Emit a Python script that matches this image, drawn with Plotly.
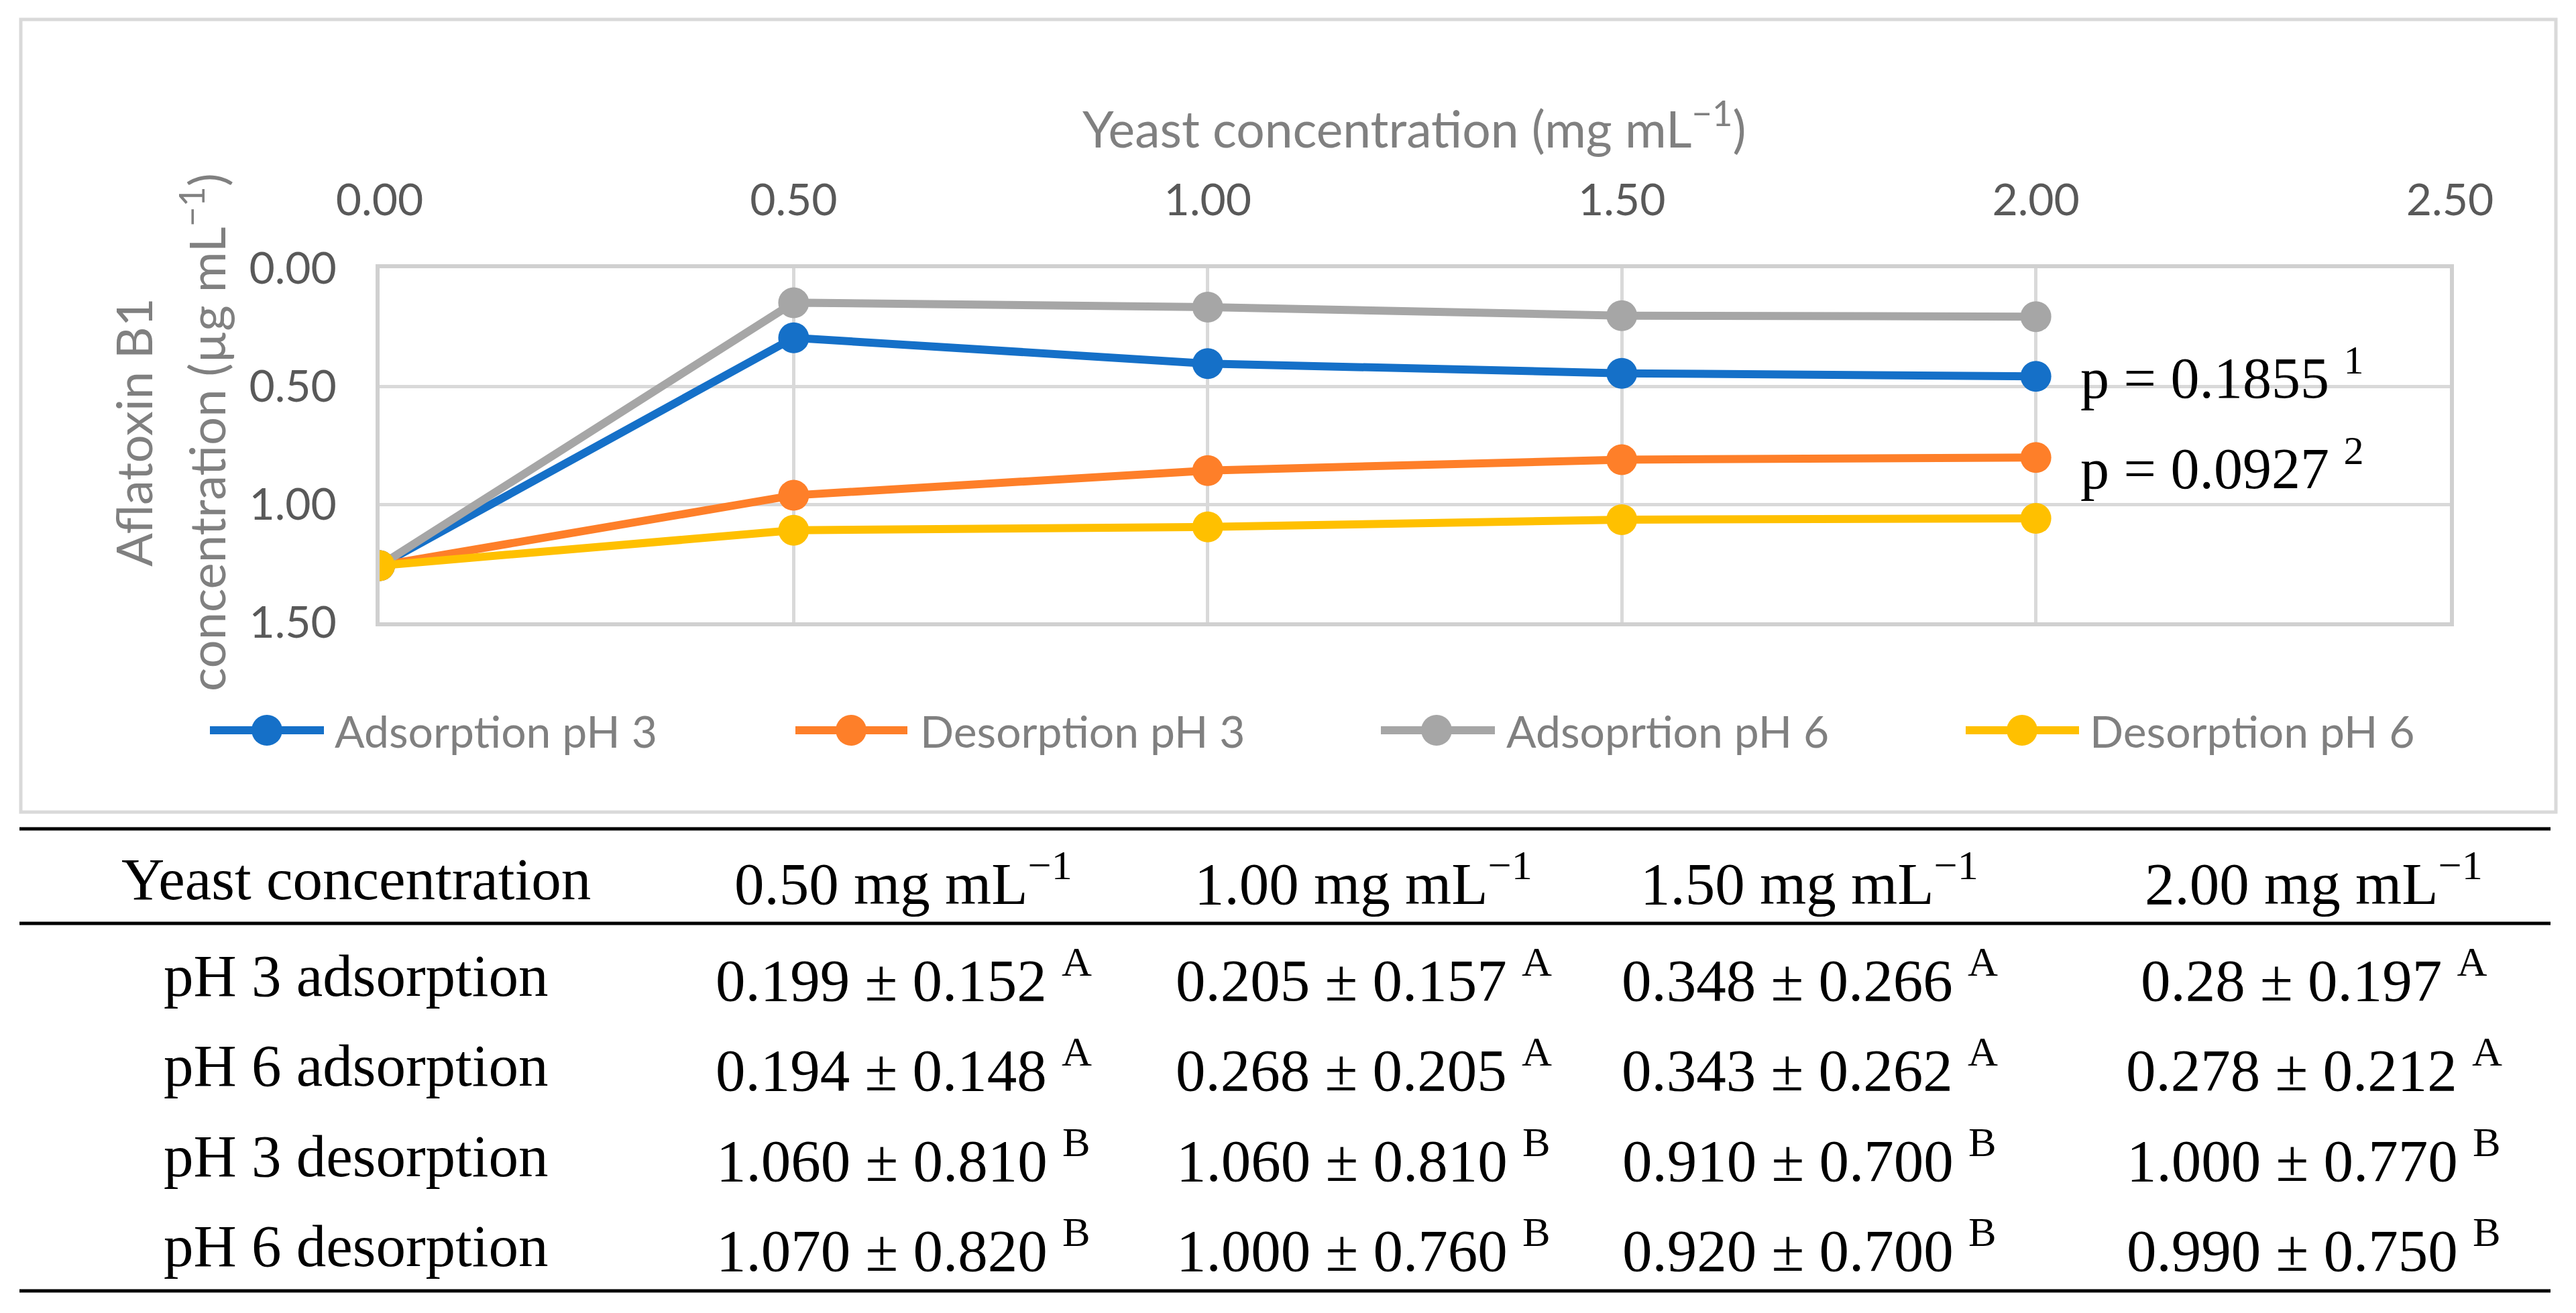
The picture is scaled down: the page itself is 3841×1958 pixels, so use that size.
import plotly.graph_objects as go

# ---------------- data ----------------
yeast_conc = [0.0, 0.5, 1.0, 1.5, 2.0]
adsorption_ph3 = [1.26, 0.295, 0.404, 0.445, 0.458]
desorption_ph3 = [1.26, 0.962, 0.857, 0.811, 0.802]
adsorption_ph6 = [1.26, 0.146, 0.165, 0.201, 0.205]
desorption_ph6 = [1.26, 1.110, 1.096, 1.065, 1.060]

series_names = ["Adsorption pH 3", "Desorption pH 3", "Adsoprtion pH 6", "Desorption pH 6"]
series_values = [adsorption_ph3, desorption_ph3, adsorption_ph6, desorption_ph6]
series_colors = ["#1570c8", "#fe7f29", "#a6a6a6", "#ffc000"]

p_labels = ["p = 0.1855 <sup>1</sup>", "p = 0.0927 <sup>2</sup>"]

table_header = ["Yeast concentration", "0.50 mg mL<sup>\u22121</sup>", "1.00 mg mL<sup>\u22121</sup>",
                "1.50 mg mL<sup>\u22121</sup>", "2.00 mg mL<sup>\u22121</sup>"]
row_labels = ["pH 3 adsorption", "pH 6 adsorption", "pH 3 desorption", "pH 6 desorption"]
row_means = [["0.199", "0.205", "0.348", "0.28"],
             ["0.194", "0.268", "0.343", "0.278"],
             ["1.060", "1.060", "0.910", "1.000"],
             ["1.070", "1.000", "0.920", "0.990"]]
row_sds = [["0.152", "0.157", "0.266", "0.197"],
           ["0.148", "0.205", "0.262", "0.212"],
           ["0.810", "0.810", "0.700", "0.770"],
           ["0.820", "0.760", "0.700", "0.750"]]
row_letters = [["A", "A", "A", "A"],
               ["A", "A", "A", "A"],
               ["B", "B", "B", "B"],
               ["B", "B", "B", "B"]]

# ---------------- layout helpers ----------------
W, H = 3841, 1958


def px(x):
    return x / W


def py(y):
    return 1 - y / H


SANS = "Lato"
SERIF = "Liberation Serif"

fig = go.Figure()
for name, vals, col in zip(series_names, series_values, series_colors):
    fig.add_trace(go.Scatter(
        x=yeast_conc, y=vals, name=name, mode="lines+markers",
        line=dict(color=col, width=12),
        marker=dict(color=col, size=46),
        showlegend=False,
    ))

annotations = []
shapes = []

# axis titles
annotations.append(dict(text="Yeast concentration (mg mL<sup>\u22121</sup>)", x=px(2109), y=py(186),
                        xref="paper", yref="paper", xanchor="center", yanchor="middle",
                        showarrow=False, font=dict(family=SANS, size=75, color="#808080")))
annotations.append(dict(text="Aflatoxin B1", x=px(199), y=py(645), textangle=-90,
                        xref="paper", yref="paper", xanchor="center", yanchor="middle",
                        showarrow=False, font=dict(family=SANS, size=74, color="#808080")))
annotations.append(dict(text="concentration (\u00b5g mL<sup>\u22121</sup>)", x=px(303), y=py(645), textangle=-90,
                        xref="paper", yref="paper", xanchor="center", yanchor="middle",
                        showarrow=False, font=dict(family=SANS, size=74, color="#808080")))

# p-value labels next to the last points
for lbl, yy in zip(p_labels, [558, 692]):
    annotations.append(dict(text=lbl, x=px(3100), y=py(yy), xref="paper", yref="paper",
                            xanchor="left", yanchor="middle", showarrow=False,
                            font=dict(family=SERIF, size=86, color="#000000")))

# custom legend
leg_y = 1089
leg_items = [(313, 483, 398, 497), (1186, 1353, 1269, 1370), (2059, 2229, 2142, 2244), (2931, 3100, 3015, 3114)]
r = 23
for (lx0, lx1, mx, tx), name, col in zip(leg_items, series_names, series_colors):
    shapes.append(dict(type="line", xref="paper", yref="paper", x0=px(lx0), x1=px(lx1),
                       y0=py(leg_y), y1=py(leg_y), line=dict(color=col, width=12)))
    shapes.append(dict(type="circle", xref="paper", yref="paper", x0=px(mx - r), x1=px(mx + r),
                       y0=py(leg_y - r), y1=py(leg_y + r), fillcolor=col, line=dict(width=0)))
    annotations.append(dict(text=name, x=px(tx), y=py(leg_y), xref="paper", yref="paper",
                            xanchor="left", yanchor="middle", showarrow=False,
                            font=dict(family=SANS, size=66, color="#808080")))

# chart outer border
shapes.append(dict(type="rect", xref="paper", yref="paper", x0=px(31), x1=px(3811), y0=py(29), y1=py(1211),
                   line=dict(color="#d9d9d9", width=5), layer="below"))

# table
col_x = [531, 1347, 2033, 2698, 3450]
header_y = 1311
row_y = [1455, 1589, 1724, 1858]
for cx, txt in zip(col_x, table_header):
    annotations.append(dict(text=txt, x=px(cx), y=py(header_y), xref="paper", yref="paper",
                            xanchor="center", yanchor="middle", showarrow=False,
                            font=dict(family=SERIF, size=89, color="#000000")))
for i, ry in enumerate(row_y):
    annotations.append(dict(text=row_labels[i], x=px(col_x[0]), y=py(ry), xref="paper", yref="paper",
                            xanchor="center", yanchor="middle", showarrow=False,
                            font=dict(family=SERIF, size=89, color="#000000")))
    for j in range(4):
        txt = f"{row_means[i][j]} \u00b1 {row_sds[i][j]} <sup>{row_letters[i][j]}</sup>"
        annotations.append(dict(text=txt, x=px(col_x[j + 1]), y=py(ry), xref="paper", yref="paper",
                                xanchor="center", yanchor="middle", showarrow=False,
                                font=dict(family=SERIF, size=89, color="#000000")))
for ly in [1236, 1377, 1925]:
    shapes.append(dict(type="line", xref="paper", yref="paper", x0=px(29), x1=px(3803),
                       y0=py(ly), y1=py(ly), line=dict(color="#000000", width=5)))

fig.update_layout(
    width=W, height=H,
    margin=dict(l=0, r=0, t=0, b=0, autoexpand=False),
    paper_bgcolor="white", plot_bgcolor="white",
    showlegend=False,
    annotations=annotations,
    shapes=shapes,
    xaxis=dict(
        domain=[px(566), px(3653)], range=[0, 2.5], side="top",
        tick0=0, dtick=0.5, tickformat=".2f", automargin=False,
        showgrid=True, gridcolor="#d9d9d9", gridwidth=5,
        showline=True, linecolor="#d0d0d0", linewidth=6, mirror=True,
        zeroline=False,
        ticks="outside", ticklen=47, tickcolor="rgba(0,0,0,0)",
        tickfont=dict(family=SANS, size=66, color="#595959"),
    ),
    yaxis=dict(
        domain=[py(928), py(400)], range=[1.5, 0],
        tick0=0, dtick=0.5, tickformat=".2f", automargin=False,
        showgrid=True, gridcolor="#d9d9d9", gridwidth=5,
        showline=True, linecolor="#d0d0d0", linewidth=6, mirror=True,
        zeroline=False,
        ticks="outside", ticklen=45, tickcolor="rgba(0,0,0,0)",
        tickfont=dict(family=SANS, size=66, color="#595959"),
    ),
)

fig.write_html("out.html", config={"displayModeBar": False},
               post_script="document.body.style.margin='0';document.body.style.overflow='hidden';")
